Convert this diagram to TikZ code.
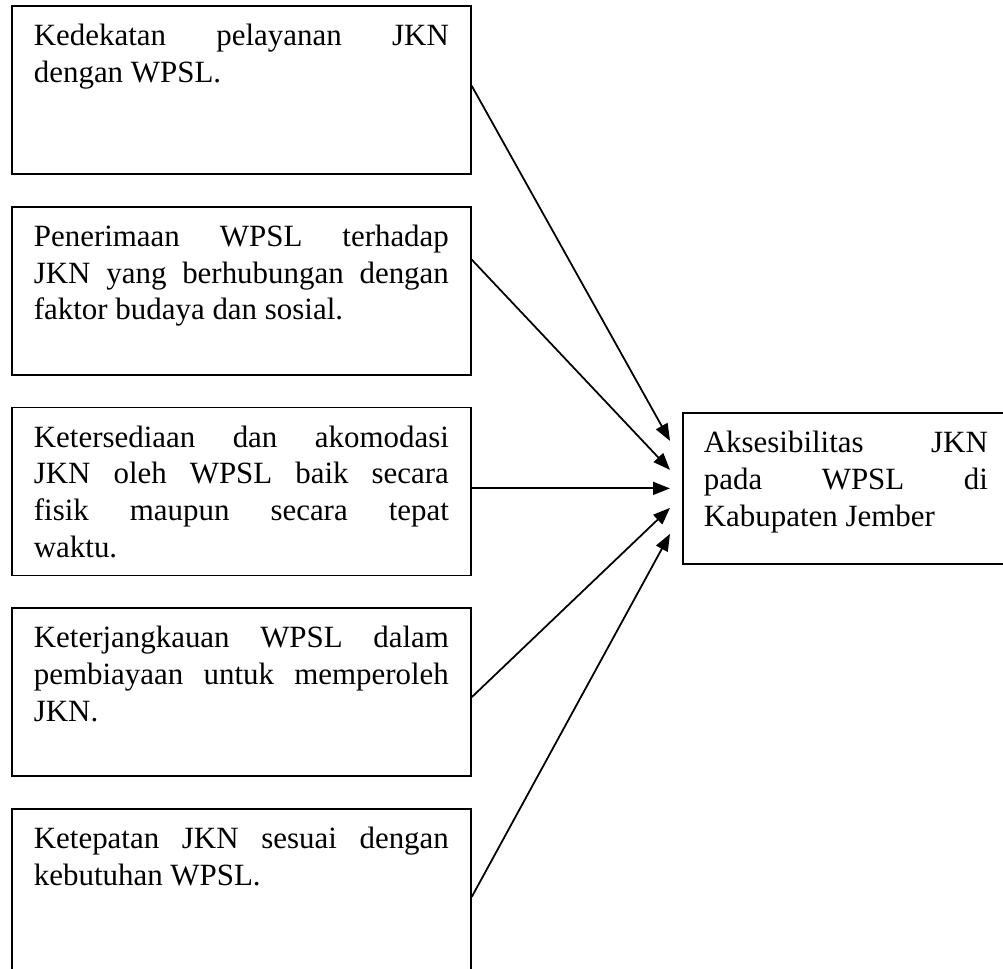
\documentclass[tikz,border=0pt]{standalone}
\usepackage{fontspec}
\setmainfont{Liberation Serif}
\usetikzlibrary{positioning,arrows.meta}

% one justified line inside a box
\newcommand{\rata}[1]{\makebox[\linewidth][s]{#1}\\}

\begin{document}
\begin{tikzpicture}[
	font=\fontsize{17.6}{20.9}\selectfont,
	faktor/.style={draw,line width=1pt,anchor=north west,inner xsep=0.44cm,inner ysep=0.28cm},
	panah/.style={line width=1pt,-{Triangle[length=0.34cm,width=0.26cm]}}
	]
	\useasboundingbox (0,0) rectangle (20.06,19.36);
	% the five factors
	\node[faktor] (b1) at (0.22,19.26) {\parbox[t][2.8cm][t]{8.3cm}{\strut\rata{Kedekatan pelayanan JKN}dengan WPSL.}};
	\node[faktor,below=0.62cm of b1.south west,anchor=north west] (b2) {\parbox[t][2.8cm][t]{8.3cm}{\strut\rata{Penerimaan WPSL terhadap}\rata{JKN yang berhubungan dengan}faktor budaya dan sosial.}};
	\node[faktor,below=0.62cm of b2.south west,anchor=north west] (b3) {\parbox[t][2.8cm][t]{8.3cm}{\strut\rata{Ketersediaan dan akomodasi}\rata{JKN oleh WPSL baik secara}\rata{fisik maupun secara tepat}waktu.}};
	\node[faktor,below=0.62cm of b3.south west,anchor=north west] (b4) {\parbox[t][2.8cm][t]{8.3cm}{\strut\rata{Keterjangkauan WPSL dalam}\rata{pembiayaan untuk memperoleh}JKN.}};
	\node[faktor,below=0.62cm of b4.south west,anchor=north west] (b5) {\parbox[t][2.8cm][t]{8.3cm}{\strut\rata{Ketepatan JKN sesuai dengan}kebutuhan WPSL.}};
	% the outcome
	\node[faktor,inner xsep=0.42cm] (aks) at (13.64,11.12) {\parbox[t][2.46cm][t]{5.68cm}{\strut\rata{Aksesibilitas JKN}\rata{pada WPSL di}Kabupaten Jember}};
	% arrow tips stop short of the box
	\coordinate (m1) at ([xshift=-0.24cm,yshift=0.95cm]aks.west);
	\coordinate (m2) at ([xshift=-0.24cm,yshift=0.37cm]aks.west);
	\coordinate (m3) at ([xshift=-0.24cm]aks.west);
	\coordinate (m4) at ([xshift=-0.24cm,yshift=-0.39cm]aks.west);
	\coordinate (m5) at ([xshift=-0.24cm,yshift=-0.91cm]aks.west);
	\draw[panah] ([yshift=0.08cm]b1.east) -- (m1);
	\draw[panah] ([yshift=0.62cm]b2.east) -- (m2);
	\draw[panah] (m3 -| b3.east) -- (m3);
	\draw[panah] ([yshift=-0.1cm]b4.east) -- (m4);
	\draw[panah] ([yshift=-0.08cm]b5.east) -- (m5);
\end{tikzpicture}
\end{document}
